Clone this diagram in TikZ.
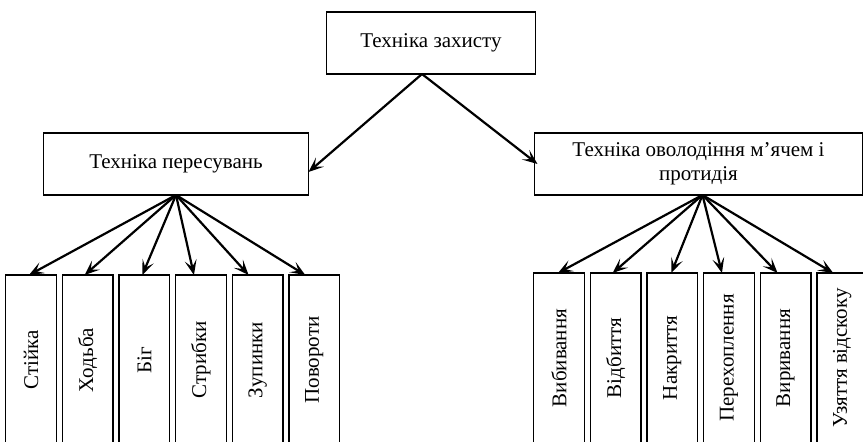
\documentclass[tikz,border=0pt]{standalone}
\usepackage{fontspec}
\setmainfont{Liberation Serif}
\usetikzlibrary{arrows.meta}

\begin{document}
\begin{tikzpicture}[x=1pt,y=-1pt,
  box/.style={draw,line width=1.3pt,inner sep=0pt,outer sep=0pt,align=center,
    font=\fontsize{21}{24}\selectfont},
  leaf/.style={box,minimum width=50.5pt,minimum height=170pt},
  arr/.style={-{Stealth[length=15pt,width=12pt,inset=7pt]},line width=2.2pt}]
\useasboundingbox (0,0) rectangle (863,442);
% upper levels
\node[box,minimum width=209pt,minimum height=62pt] (zah) at (431,43) {Техніка захисту};
\node[box,minimum width=265pt,minimum height=62pt] (per) at (176,164) {Техніка пересувань};
\node[box,minimum width=328pt,minimum height=62pt] (ovo) at (698.5,164) {Техніка оволодіння м’ячем і\\протидія};
\coordinate (zs) at ([xshift=-9pt]zah.south);
\coordinate (os) at ([xshift=4pt]ovo.south);
\draw[arr] (zs) -- ([yshift=-8pt]per.east);
\draw[arr] (zs) -- ([xshift=3pt]ovo.west);
% left leaves
\foreach \name [count=\i from 0] in {Стійка,Ходьба,Біг,Стрибки,Зупинки,Повороти}
  \node[leaf] (l\i) at (31+56.65*\i,360) {\rotatebox{90}{\name}};
\foreach \i/\dx in {0/-2,1/-3,2/-2,3/-7,4/-9,5/-9}
  \draw[arr] (per.south) -- ([xshift=\dx pt]l\i.north);
% right leaves
\foreach \name [count=\i from 0] in {Вибивання,Відбиття,Накриття,Перехоплення,Виривання,Узяття відскоку}
  \node[leaf] (r\i) at (559+56.65*\i,358) {\rotatebox{90}{\name}};
\foreach \i/\dx in {0/-1,1/-3,2/-1,3/-7,4/-8,5/-9}
  \draw[arr] (os) -- ([xshift=\dx pt]r\i.north);
\end{tikzpicture}
\end{document}
